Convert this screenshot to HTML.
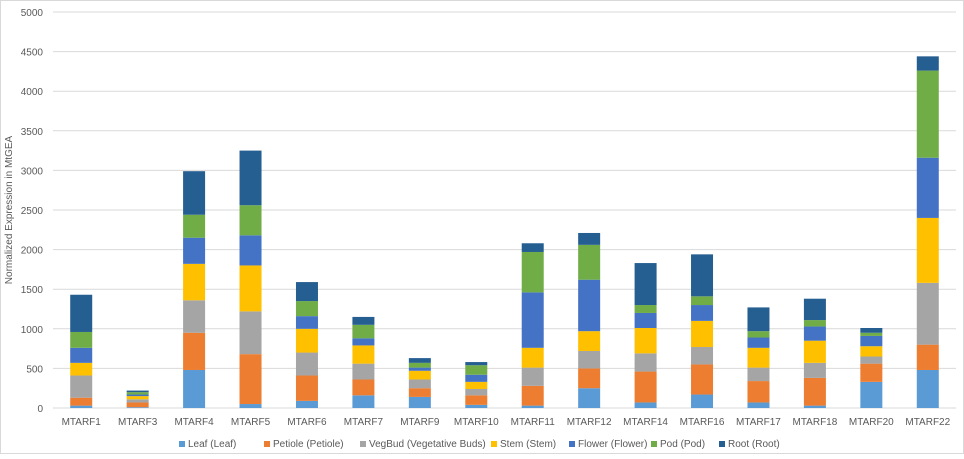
<!DOCTYPE html>
<html><head><meta charset="utf-8"><style>
body{margin:0;background:#fff;font-family:"Liberation Sans",sans-serif}
</style></head><body>
<svg id="c" width="964" height="454" xmlns="http://www.w3.org/2000/svg" style="border:1px solid #d9d9d9;box-sizing:border-box"></svg>
<script>
const categories=["MTARF1","MTARF3","MTARF4","MTARF5","MTARF6","MTARF7","MTARF9","MTARF10","MTARF11","MTARF12","MTARF14","MTARF16","MTARF17","MTARF18","MTARF20","MTARF22"];
const seriesNames=["Leaf (Leaf)","Petiole (Petiole)","VegBud (Vegetative Buds)","Stem (Stem)","Flower (Flower)","Pod (Pod)","Root (Root)"];
const leaf=[30,10,480,50,90,160,140,40,30,250,70,170,70,30,330,480];
const petiole=[100,60,470,630,320,200,110,120,250,250,390,380,270,350,230,320];
const vegbud=[280,40,410,540,290,200,110,80,230,220,230,220,170,190,90,780];
const stem=[160,40,460,580,300,230,110,90,250,250,320,330,250,280,130,820];
const flower=[190,20,330,380,160,90,40,90,700,650,190,200,130,180,130,760];
const pod=[200,30,290,380,190,170,60,120,510,440,100,110,80,80,40,1100];
const root=[470,20,550,690,240,100,60,40,110,150,530,530,300,270,60,180];
const yTicks=[0,500,1000,1500,2000,2500,3000,3500,4000,4500,5000];
const colors=["#5b9bd5","#ed7d31","#a5a5a5","#ffc000","#4472c4","#70ad47","#255e91"];
const series=[leaf,petiole,vegbud,stem,flower,pod,root];
const svg=document.getElementById('c');const NS="http://www.w3.org/2000/svg";
const L=52,R=955,T=11,B=407,yMax=5000;
const y=v=>B-(v/yMax)*(B-T);
const band=(R-L)/categories.length;
const xc=i=>L+band*(i+0.5);
function mk(t,a,txt){const e=document.createElementNS(NS,t);for(const k in a)e.setAttribute(k,a[k]);if(txt!=null)e.textContent=txt;svg.appendChild(e);return e;}
yTicks.forEach(v=>{
 const g=mk('line',{x1:L,x2:R,y1:y(v),y2:y(v),stroke:'#d9d9d9','stroke-width':1});
 
 
 const t=mk('text',{x:L-10,y:y(v)+4,'text-anchor':'end','font-size':10,fill:'#595959'},v);
 
 
});
categories.forEach((c,i)=>{
 let cum=0;
 series.forEach((s,k)=>{
  const r=mk('rect',{x:xc(i)-11,width:22,y:y(cum+s[i]),height:y(cum)-y(cum+s[i]),fill:colors[k]});
  
  
  cum+=s[i];
 });
 const t=mk('text',{x:xc(i),y:424,'text-anchor':'middle','font-size':10,fill:'#595959'},c);
 
 
});
const yt=mk('text',{x:11,y:209,'text-anchor':'middle','font-size':10,fill:'#595959',transform:'rotate(-90 11 209)'},'Normalized Expression in MtGEA');


const lx=[178,263,359,490,568,650,718];
seriesNames.forEach((n,k)=>{
 const r=mk('rect',{x:lx[k],y:440,width:6,height:6,fill:colors[k]});
 
 
 const t=mk('text',{x:lx[k]+9,y:446,'font-size':10,fill:'#595959'},n);
 
 
});
</script>
</body></html>
